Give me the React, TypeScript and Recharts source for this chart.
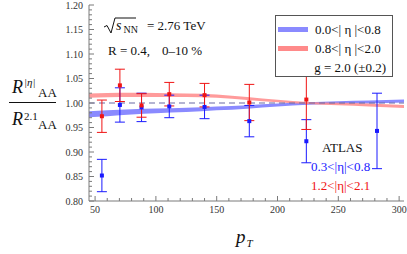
import React from 'react';
import { ComposedChart, Area, Scatter, ErrorBar, XAxis, YAxis, ReferenceLine } from 'recharts';

// ---- data ----
const curvePt = [45, 60, 80, 100, 125, 150, 175, 200, 225, 250, 275, 304];
const blueBandLo = [0.971, 0.973, 0.9765, 0.979, 0.9815, 0.985, 0.9885, 0.993, 0.9965, 0.9985, 0.999, 1.001];
const blueBandHi = [0.983, 0.985, 0.9875, 0.989, 0.9905, 0.993, 0.9955, 0.999, 1.0015, 1.0035, 1.005, 1.007];
const redBandLo = [1.0105, 1.0115, 1.012, 1.0125, 1.0125, 1.0105, 1.006, 1.0015, 0.998, 0.9955, 0.993, 0.990];
const redBandHi = [1.0195, 1.0205, 1.021, 1.0205, 1.0195, 1.0175, 1.012, 1.0065, 1.002, 1.0005, 0.999, 0.996];

const blueX = [55.6, 70.4, 88.2, 111, 140, 176.8, 223.7, 281.8];
const blueY = [0.852, 0.996, 0.991, 0.993, 0.992, 0.963, 0.922, 0.943];
const blueErr = [0.033, 0.035, 0.029, 0.023, 0.024, 0.032, 0.044, 0.077];

const redX = [55.6, 70.4, 88.2, 111, 140, 176.8, 223.7];
const redY = [0.973, 1.036, 0.995, 1.018, 1.016, 1.001, 1.007];
const redErr = [0.033, 0.033, 0.024, 0.024, 0.024, 0.037, 0.061];

const xMajorTicks = [50, 100, 150, 200, 250, 300];
const xMinorStep = 10;
const yMajorTicks = [0.8, 0.85, 0.9, 0.95, 1.0, 1.05, 1.1, 1.15, 1.2];
const yMinorStep = 0.01;

// ---- derived tables ----
const bandData = curvePt.map((x, i) => ({
  x,
  blue: [blueBandLo[i], blueBandHi[i]],
  red: [redBandLo[i], redBandHi[i]],
}));
const bluePts = blueX.map((x, i) => ({ x, y: blueY[i], e: blueErr[i] }));
const redPts = redX.map((x, i) => ({ x, y: redY[i], e: redErr[i] }));

const xTicks: number[] = [];
for (let v = xMajorTicks[0]; v <= xMajorTicks[xMajorTicks.length - 1] + 1e-9; v += xMinorStep) xTicks.push(Math.round(v));
const yTicks: number[] = [];
for (let k = 0; k <= 40; k++) yTicks.push(Math.round((yMajorTicks[0] + k * yMinorStep) * 100) / 100);

const isMajorX = (v: number) => xMajorTicks.some((m) => Math.abs(m - v) < 1e-6);
const isMajorY = (v: number) => yMajorTicks.some((m) => Math.abs(m - v) < 1e-6);

const FRAME = '#7a7a7a';
const LABEL = '#333333';
const SERIF = '"Liberation Serif", "DejaVu Serif", serif';
const MAJ = 5;
const MIN = 3;
const BLUE = '#1a1aff';
const RED = '#f01414';
const BLUE_BAND = '#8a8aff';
const RED_BAND = '#ff8a8a';

const LeftTick = (p: any) => {
  const { x, y, payload } = p;
  const v = payload.value;
  const major = isMajorY(v);
  return (
    <g>
      <line x1={x} x2={x + (major ? MAJ : MIN)} y1={y} y2={y} stroke={FRAME} strokeWidth={1} />
      {major && (
        <text x={x - 6} y={y + 3.5} textAnchor="end" fontFamily={SERIF} fontSize={10} fill={LABEL}>
          {v.toFixed(2)}
        </text>
      )}
    </g>
  );
};
const RightTick = (p: any) => {
  const { x, y, payload } = p;
  const major = isMajorY(payload.value);
  return <line x1={x} x2={x - (major ? MAJ : MIN)} y1={y} y2={y} stroke={FRAME} strokeWidth={1} />;
};
const BottomTick = (p: any) => {
  const { x, y, payload } = p;
  const v = payload.value;
  const major = isMajorX(v);
  return (
    <g>
      <line x1={x} x2={x} y1={y} y2={y - (major ? MAJ : MIN)} stroke={FRAME} strokeWidth={1} />
      {major && (
        <text x={x} y={y + 12} textAnchor="middle" fontFamily={SERIF} fontSize={10} fill={LABEL}>
          {String(v)}
        </text>
      )}
    </g>
  );
};
const TopTick = (p: any) => {
  const { x, y, payload } = p;
  const major = isMajorX(payload.value);
  return <line x1={x} x2={x} y1={y} y2={y + (major ? MAJ : MIN)} stroke={FRAME} strokeWidth={1} />;
};

const square = (color: string) => (p: any) => (
  <rect x={p.cx - 2} y={p.cy - 2} width={4} height={4} fill={color} />
);

export default function App() {
  return (
    <div style={{ position: 'fixed', left: 0, top: 0, width: 407, height: 254, background: '#fff' }}>
      <ComposedChart
        width={407}
        height={254}
        data={bandData}
        margin={{ top: 5, right: 3, bottom: 0, left: 0 }}
      >
        <XAxis
          xAxisId={0}
          dataKey="x"
          type="number"
          domain={[45, 304]}
          allowDataOverflow
          ticks={xTicks}
          interval={0}
          height={53}
          tickSize={0}
          tickMargin={0}
          tickLine={false}
          axisLine={{ stroke: FRAME }}
          tick={BottomTick}
        />
        <XAxis
          xAxisId="top"
          orientation="top"
          type="number"
          domain={[45, 304]}
          allowDataOverflow
          ticks={xTicks}
          interval={0}
          height={0}
          tickSize={0}
          tickMargin={0}
          tickLine={false}
          axisLine={{ stroke: FRAME }}
          tick={TopTick}
        />
        <YAxis
          yAxisId={0}
          type="number"
          domain={[0.8, 1.2]}
          allowDataOverflow
          ticks={yTicks}
          interval={0}
          width={89}
          tickSize={0}
          tickMargin={0}
          tickLine={false}
          axisLine={{ stroke: FRAME }}
          tick={LeftTick}
        />
        <YAxis
          yAxisId="right"
          orientation="right"
          type="number"
          domain={[0.8, 1.2]}
          allowDataOverflow
          ticks={yTicks}
          interval={0}
          width={0}
          tickSize={0}
          tickMargin={0}
          tickLine={false}
          axisLine={{ stroke: FRAME }}
          tick={RightTick}
        />
        <Area
          dataKey="blue"
          type="monotone"
          fill={BLUE_BAND}
          fillOpacity={1}
          stroke="none"
          isAnimationActive={false}
        />
        <Area
          dataKey="red"
          type="monotone"
          fill={RED_BAND}
          fillOpacity={0.85}
          stroke="none"
          isAnimationActive={false}
        />
        <ReferenceLine y={1} stroke="#6a6aa6" strokeWidth={1.2} strokeDasharray="6 4" />
        <Scatter data={bluePts} dataKey="y" fill={BLUE} shape={square(BLUE)} isAnimationActive={false}>
          <ErrorBar dataKey="e" direction="y" width={5} stroke={BLUE} strokeWidth={1} />
        </Scatter>
        <Scatter data={redPts} dataKey="y" fill={RED} shape={square(RED)} isAnimationActive={false}>
          <ErrorBar dataKey="e" direction="y" width={5} stroke={RED} strokeWidth={1} />
        </Scatter>
      </ComposedChart>

      <svg
        width={407}
        height={254}
        style={{ position: 'absolute', left: 0, top: 0, pointerEvents: 'none' }}
        fontFamily={SERIF}
      >
        {/* y-axis label */}
        <text x={12} y={93} fontSize={18} fontStyle="italic" fill="#111">R</text>
        <text x={24} y={86} fontSize={11} fontStyle="italic" fill="#111">|η|</text>
        <text x={38} y={97} fontSize={13} fill="#111">AA</text>
        <line x1={9} x2={56} y1={102.5} y2={102.5} stroke="#111" strokeWidth={1} />
        <text x={12} y={125} fontSize={18} fontStyle="italic" fill="#111">R</text>
        <text x={24} y={120} fontSize={11} fill="#111">2.1</text>
        <text x={38} y={129} fontSize={13} fill="#111">AA</text>

        {/* x-axis label */}
        <text x={236} y={243} fontSize={19} fontStyle="italic" fill="#111">p</text>
        <text x={246.5} y={247} fontSize={11} fontStyle="italic" fill="#111">T</text>

        {/* sqrt(s_NN) */}
        <polyline points="104,27 107,25.5 111,33 115,18 136,18" fill="none" stroke="#111" strokeWidth={1} />
        <text x={116} y={30} fontSize={14} fontStyle="italic" fill="#111">s</text>
        <text x={123.5} y={33} fontSize={10} fill="#111">NN</text>
        <text x={147} y={30} fontSize={13} fill="#111">= 2.76 TeV</text>
        <text x={108} y={54.5} fontSize={13} fill="#111">R = 0.4,</text>
        <text x={162} y={54.5} fontSize={13} fill="#111">0–10 %</text>

        {/* legend */}
        <rect x={275.5} y={15.5} width={117} height={61} fill="#fff" stroke="#555" strokeWidth={1} />
        <line x1={278} x2={308} y1={29.5} y2={29.5} stroke={BLUE_BAND} strokeWidth={5} />
        <text x={315} y={34} fontSize={13} fill="#111">0.0&lt;| η |&lt;0.8</text>
        <line x1={278} x2={308} y1={48.5} y2={48.5} stroke={RED_BAND} strokeWidth={5} />
        <text x={315} y={53} fontSize={13} fill="#111">0.8&lt;| η |&lt;2.0</text>
        <text x={386} y={72} fontSize={13} textAnchor="end" fill="#111">g = 2.0 (±0.2)</text>

        {/* ATLAS annotation */}
        <text x={322} y={152} fontSize={13} fill="#111">ATLAS</text>
        <text x={311} y={171} fontSize={13} fill={BLUE}>0.3&lt;|η|&lt;0.8</text>
        <text x={311} y={190} fontSize={13} fill={RED}>1.2&lt;|η|&lt;2.1</text>
      </svg>
    </div>
  );
}
